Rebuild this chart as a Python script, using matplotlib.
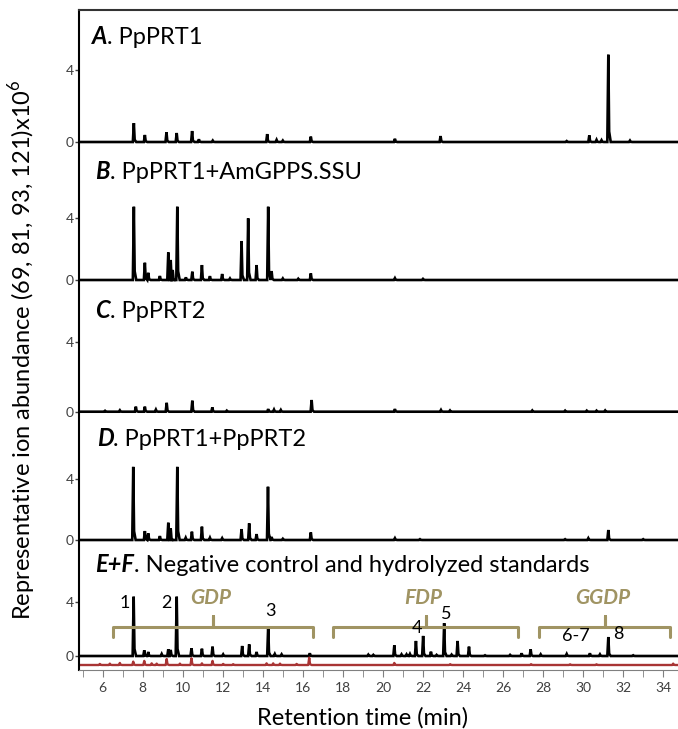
import matplotlib
matplotlib.use('Agg')
import matplotlib.pyplot as plt
import numpy as np

plt.rcParams['font.family'] = ['Lato', 'DejaVu Sans']
plt.rcParams['mathtext.fontset'] = 'custom'
plt.rcParams['mathtext.rm'] = 'Lato'

# Peaks: retention time (min) and height (x10^6)
a_rt = [7.56, 8.11, 9.19, 9.70, 10.47, 10.81, 11.5, 14.22, 14.69, 15.0, 16.40,
        20.6, 22.88, 29.18, 30.31, 30.67, 30.92, 31.26, 32.34]
a_h = [1.05, 0.39, 0.54, 0.50, 0.61, 0.15, 0.08, 0.44, 0.12, 0.08, 0.30,
       0.18, 0.33, 0.05, 0.37, 0.12, 0.10, 4.85, 0.08]

b_rt = [7.56, 8.11, 8.28, 8.86, 9.28, 9.40, 9.50, 9.73, 10.16, 10.48, 10.96,
        11.36, 11.97, 12.36, 12.94, 13.27, 13.69, 14.27, 14.44, 15.0, 15.77,
        16.40, 20.6, 22.0]
b_h = [4.75, 1.12, 0.47, 0.26, 1.79, 1.30, 0.65, 4.75, 0.17, 0.54, 0.97,
       0.25, 0.39, 0.10, 2.53, 4.0, 0.97, 4.75, 0.58, 0.10, 0.08,
       0.43, 0.12, 0.07]

c_rt = [6.12, 6.86, 7.66, 8.11, 8.66, 9.20, 10.48, 11.48, 12.2, 14.27, 14.56,
        14.9, 16.44, 20.6, 22.9, 23.35, 27.46, 29.1, 30.18, 30.67, 31.1]
c_h = [0.05, 0.08, 0.29, 0.29, 0.12, 0.51, 0.63, 0.25, 0.06, 0.15, 0.12,
       0.10, 0.67, 0.15, 0.10, 0.07, 0.07, 0.06, 0.06, 0.06, 0.07]

d_rt = [7.53, 8.11, 8.28, 8.86, 9.28, 9.40, 9.73, 10.15, 10.46, 10.96, 11.36,
        11.97, 12.94, 13.32, 13.69, 14.26, 14.44, 15.0, 16.40, 20.6, 21.85,
        29.1, 30.26, 31.26, 33.0]
d_h = [4.82, 0.59, 0.44, 0.26, 1.14, 0.77, 4.82, 0.15, 0.55, 0.88, 0.15,
       0.12, 0.72, 1.10, 0.39, 3.51, 0.20, 0.08, 0.50, 0.12, 0.05,
       0.05, 0.12, 0.66, 0.05]

# E: hydrolyzed standards (black)
e_rt = [7.55, 8.08, 8.28, 8.95, 9.28, 9.40, 9.70, 10.44, 10.96, 11.49, 12.02,
        12.97, 13.32, 13.69, 14.27, 14.6, 14.94, 16.35, 19.27, 19.52,
        20.57, 20.93, 21.18, 21.35, 21.65, 22.01, 22.4, 22.68, 23.06, 23.43,
        23.73, 24.3, 25.1, 26.35, 26.93, 27.38, 27.88, 29.18, 30.34, 30.84,
        31.26, 32.5]
e_h = [4.37, 0.42, 0.30, 0.15, 0.50, 0.45, 4.37, 0.57, 0.54, 0.69, 0.12,
       0.74, 0.86, 0.30, 2.15, 0.15, 0.12, 0.20, 0.10, 0.08,
       0.79, 0.12, 0.12, 0.15, 1.11, 1.48, 0.32, 0.08, 2.42, 0.10,
       1.11, 0.69, 0.05, 0.08, 0.20, 0.49, 0.12, 0.15, 0.20, 0.12,
       1.40, 0.05]

# F: negative control (red)
f_rt = [5.86, 6.36, 6.86, 7.53, 8.08, 8.45, 8.7, 9.2, 9.86, 10.44, 10.96,
        11.49, 12.02, 12.52, 14.19, 14.52, 14.86, 15.69, 16.32, 20.57, 23.36,
        27.4, 29.35, 30.67, 34.5]
f_h = [0.08, 0.10, 0.15, 0.25, 0.30, 0.12, 0.10, 0.44, 0.10, 0.49, 0.12,
       0.30, 0.08, 0.06, 0.12, 0.12, 0.10, 0.08, 0.54, 0.15, 0.06,
       0.06, 0.05, 0.05, 0.10]

panel_letters = ['A', 'B', 'C', 'D', 'E+F']
panel_names = ['. PpPRT1', '. PpPRT1+AmGPPS.SSU', '. PpPRT2',
               '. PpPRT1+PpPRT2', '. Negative control and hydrolyzed standards']

peak_labels = ['1', '2', '3', '4', '5', '6-7', '8']
peak_label_rt = [7.11, 9.2, 14.36, 21.68, 23.18, 29.63, 31.76]
peak_label_y = [3.88, 3.88, 3.33, 2.09, 3.09, 1.48, 1.6]

bracket_names = ['GDP', 'FDP', 'GGDP']
bracket_left = [6.53, 17.52, 27.81]
bracket_right = [16.52, 26.73, 34.34]
bracket_mid = [11.52, 22.13, 31.09]

# Layout (pixels in a 678x729 figure)
W, H = 678, 729
ax_left, ax_top, ax_bottom = 79, 10, 670
xlim = (4.82, 34.74)
# baseline pixel and "4" tick pixel of each panel
base_px = [142, 280, 411.7, 540, 656]
four_px = [70, 218.3, 341.7, 479.3, 601.7]
title_xy = [(91.7, 37), (95, 171.7), (95, 310), (96.7, 438), (95, 565)]

olive = '#a09463'
red = '#a83434'
tick_gray = '#404040'
fs = 17


def make_trace(rts, hs):
    xs = [xlim[0]]
    ys = [0.0]
    for rt, h in sorted(zip(rts, hs)):
        xs += [rt - 0.05, rt, rt + 0.04, rt + 0.12]
        ys += [0.0, h, 0.12 * h, 0.0]
    xs.append(xlim[1])
    ys.append(0.0)
    return np.array(xs), np.array(ys)


fig = plt.figure(figsize=(W / 100, H / 100), dpi=100)
rect = [ax_left / W, (H - ax_bottom) / H, 1 - ax_left / W,
        (ax_bottom - ax_top) / H]

all_rt = [a_rt, b_rt, c_rt, d_rt, e_rt]
all_h = [a_h, b_h, c_h, d_h, e_h]
axes = []
for i in range(5):
    ax = fig.add_axes(rect, label='panel%d' % i)
    ax.patch.set_alpha(0)
    u = (base_px[i] - four_px[i]) / 4.0
    ax.set_ylim(-(ax_bottom - base_px[i]) / u, (base_px[i] - ax_top) / u)
    ax.set_xlim(*xlim)
    xs, ys = make_trace(all_rt[i], all_h[i])
    ax.plot(xs, ys, color='k', linewidth=1.9, solid_joinstyle='miter')
    ax.set_yticks([0, 4])
    ax.tick_params(axis='y', direction='out', length=3, width=1,
                   labelsize=10, labelcolor=tick_gray, color=tick_gray, pad=1)
    for s in ['right', 'top', 'bottom', 'left']:
        ax.spines[s].set_visible(False)
    ax.set_xticks([])
    # panel title: bold-italic letter then plain text
    tx = (title_xy[i][0] - ax_left) / (W - ax_left)
    ty = (ax_bottom - title_xy[i][1]) / (ax_bottom - ax_top)
    t = ax.text(tx, ty, panel_letters[i], transform=ax.transAxes,
                fontsize=fs, fontweight='bold', style='italic',
                va='center', ha='left')
    ax.annotate(panel_names[i], xy=(1, 0), xycoords=t, va='bottom',
                ha='left', fontsize=fs)
    axes.append(ax)

ax_e = axes[-1]
# negative control drawn below the standards trace
red_offset = -(665 - base_px[4]) / ((base_px[4] - four_px[4]) / 4.0)
xs, ys = make_trace(f_rt, f_h)
ax_e.plot(xs, ys + red_offset, color=red, linewidth=1.7)

for lab, rt, y in zip(peak_labels, peak_label_rt, peak_label_y):
    ax_e.text(rt, y, lab, fontsize=13, ha='center', va='center')

arm, foot, tip = 2.17, 1.4, 2.96
for name, l, r, m in zip(bracket_names, bracket_left, bracket_right, bracket_mid):
    ax_e.plot([l, l, m, m, m, r, r], [foot, arm, arm, tip, arm, arm, foot],
              color=olive, linewidth=2.2, solid_joinstyle='round',
              solid_capstyle='round')
    ax_e.text(m - 0.1, 4.27, name, color=olive, fontsize=15,
              fontweight='bold', style='italic', ha='center', va='center')

# frame and x axis on the last axes
ax_e.spines['left'].set_visible(True)
ax_e.spines['left'].set_linewidth(1.5)
ax_e.spines['top'].set_visible(True)
ax_e.spines['top'].set_linewidth(1.5)
ax_e.spines['top'].set_color('#333333')
ax_e.spines['bottom'].set_visible(True)
ax_e.spines['bottom'].set_color('#808080')
ax_e.set_xticks(np.arange(6, 35, 2))
ax_e.set_xticks(np.arange(5, 35, 1), minor=True)
ax_e.tick_params(axis='x', which='major', direction='out', length=5,
                 color='#808080', labelsize=10, labelcolor=tick_gray)
ax_e.tick_params(axis='x', which='minor', direction='out', length=5,
                 color='#808080')

fig.text(363 / W, 1 - 718 / H, 'Retention time (min)', fontsize=fs,
         ha='center', va='center')
fig.text(22 / W, 1 - 350 / H,
         r'Representative ion abundance (69, 81, 93, 121)x10$^6$',
         fontsize=fs, rotation=90, ha='center', va='center')

fig.savefig('out.png', dpi=100)
